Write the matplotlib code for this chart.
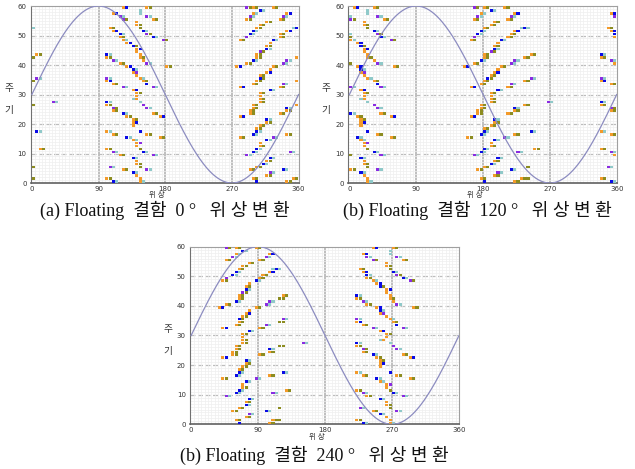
import numpy as np
import matplotlib
matplotlib.use('Agg')
import matplotlib.pyplot as plt

plt.rcParams['font.family'] = ['DejaVu Sans', 'Noto Sans CJK KR']

# colour codes of the cells
COLORS = {'o': '#F39A2A', 'g': '#8C8C20', 'b': '#0A0AE6', 'c': '#8FC9C9', 'p': '#8A2BE2'}

# base pattern (0 deg): phase of first cell, cycle, cell colours left->right
PHASE = [125, 153, 146, 112, 146, 118, 157, 124, 166, 141, 141, 107, 146, 112, 152,
         118, 157, 118, 164, 124, 176, 130, 135, 141, 141, 101, 146, 101, 146, 112,
         152, 118, 157, 130, 180, 135, 135, 141, 101, 146, 101, 152, 112, 157, 124,
         164, 135, 141, 141, 135, 101, 146, 101, 152, 112, 157, 112, 124, 164, 130,
         175, 135, 135, 135, 101, 146, 112, 157, 130, 175, 135, 141, 141, 101, 146,
         112, 152, 118, 164, 135, 141, 141, 107, 146, 124, 157, 135, 141, 101, 146,
         112, 146,
         288, 301, 328, 310, 299, 344, 294, 340, 288, 333, 317, 310, 304, 351, 299,
         344, 294, 337, 288, 333, 282, 326, 320, 315, 315, 310, 304, 304, 358, 299,
         344, 288, 340, 277, 326, 320, 315, 310, 306, 304, 358, 299, 340, 282, 333,
         320, 310, 310, 310, 310, 299, 358, 299, 344, 294, 344, 294, 333, 282, 315,
         315, 310, 304, 304, 299, 344, 281, 328, 315, 310, 310, 304, 299, 349, 288,
         320, 315, 312, 304, 294, 340, 320, 315, 299, 351, 304, 344,
         0, 0, 4.5, 4.5, 0, 29, 0, 4.5, 9, 0, 0]
CYCLE = [59, 59, 58, 57, 57, 56, 56, 55, 55, 54, 53, 52, 52, 51, 51,
         50, 50, 49, 49, 48, 48, 47, 46, 45, 44, 43, 43, 42, 42, 41,
         41, 40, 40, 39, 39, 38, 37, 36, 35, 35, 34, 34, 33, 33, 32,
         32, 31, 30, 29, 28, 27, 27, 26, 26, 25, 25, 24, 23, 23, 22,
         22, 21, 20, 19, 17, 17, 16, 16, 15, 15, 14, 13, 12, 11, 11,
         10, 10, 9, 9, 8, 7, 6, 5, 5, 4, 4, 3, 2, 1, 1,
         0, 0,
         59, 59, 59, 58, 57, 57, 56, 56, 55, 55, 54, 53, 52, 52, 51,
         51, 50, 50, 49, 49, 48, 48, 47, 46, 45, 44, 43, 42, 42, 41,
         41, 40, 40, 39, 39, 38, 37, 36, 35, 34, 34, 33, 33, 32, 32,
         31, 30, 29, 28, 27, 26, 26, 25, 25, 24, 24, 23, 23, 22, 21,
         20, 19, 18, 17, 16, 16, 15, 15, 14, 13, 12, 11, 10, 10, 9,
         8, 7, 6, 5, 4, 4, 3, 2, 1, 1, 0, 0,
         52, 42, 43, 35, 34, 27, 26, 17, 11, 5, 1]
CODE = ['ob', 'og', 'c', 'ob', 'c', 'pc', 'pc', 'pg', 'og', 'o', 'og', 'og', 'g', 'ob', 'bc',
        'bc', 'pg', 'og', 'bc', 'oc', 'pg', 'ob', 'bg', 'ob', 'o', 'bc', 'o', 'og', 'og', 'pc',
        'o', 'og', 'pc', 'ob', 'og', 'bc', 'op', 'o', 'pc', 'oc', 'ob', 'og', 'og', 'b', 'pc',
        'pc', 'ob', 'og', 'o', 'co', 'bc', 'c', 'og', 'p', 'pg', 'pc', 'og', 'bc', 'og', 'og',
        'ob', 'og', 'ob', 'o', 'oc', 'b', 'og', 'og', 'bc', 'og', 'oc', 'op', 'o', 'og', 'g',
        'pc', 'bc', 'og', 'pc', 'bc', 'o', 'og', 'pc', 'g', 'og', 'pc', 'bc', 'o', 'og', 'o',
        'bc', 'oc',
        'pg', 'og', 'og', 'bc', 'oc', 'ob', 'pc', 'pc', 'og', 'og', 'og', 'og', 'og', 'cb', 'bc',
        'ob', 'bc', 'og', 'p', 'og', 'og', 'bc', 'o', 'og', 'bc', 'pg', 'og', 'og', 'og', 'bc',
        'pc', 'og', 'pc', 'ob', 'og', 'o', 'ob', 'og', 'bg', 'og', 'og', 'og', 'pc', 'ob', 'og',
        'bc', 'og', 'o', 'og', 'og', 'og', 'og', 'og', 'bc', 'og', 'og', 'og', 'og', 'ob', 'bc',
        'og', 'og', 'og', 'bc', 'bc', 'og', 'og', 'pc', 'bc', 'o', 'og', 'bc', 'bc', 'pc', 'pc',
        'bc', 'og', 'bc', 'og', 'og', 'bc', 'pc', 'og', 'og', 'og', 'b', 'og',
        'c', 'g', 'og', 'pc', 'g', 'pc', 'g', 'bc', 'og', 'g', 'g']

SHIFTS = [0, 240, 120]
CAPTIONS = ['(a) Floating  결함  0 °   위 상 변 환',
            '(b) Floating  결함  120 °   위 상 변 환',
            '(b) Floating  결함  240 °   위 상 변 환']
AX_POS = [[0.0484, 0.6098, 0.4218, 0.3774],
          [0.5485, 0.6098, 0.4227, 0.3774],
          [0.2992, 0.0953, 0.4236, 0.3787]]
CAP_POS = [(0.259, 0.552), (0.751, 0.552), (0.4945, 0.029)]

CELL = 4.5

fig = plt.figure(figsize=(6.35, 4.69), dpi=100)

for k in range(3):
    ax = fig.add_axes(AX_POS[k])
    xs, ys, cs = [], [], []
    for ph, cy, code in zip(PHASE, CYCLE, CODE):
        for i, ch in enumerate(code):
            x = (ph + i * CELL + SHIFTS[k]) % 360
            xs.append(np.floor(x / CELL) * CELL)
            ys.append(cy)
            cs.append(COLORS[ch])
    ax.bar(xs, 0.86, bottom=np.array(ys) + 0.07, width=CELL * 0.92, align='edge',
           color=cs, linewidth=0, zorder=3)

    ph = np.linspace(0, 360, 400)
    ax.plot(ph, 30 + 30 * np.sin(np.radians(ph)), color='#8C8CC0', lw=0.9, zorder=4)

    ax.set_xlim(-1.5, 360)
    ax.set_ylim(0, 60)
    ax.set_xticks([0, 90, 180, 270, 360])
    ax.set_yticks([0, 10, 20, 30, 40, 50, 60])
    ax.set_xticks(np.arange(0, 361, CELL), minor=True)
    ax.set_yticks(np.arange(0, 61, 1), minor=True)
    ax.grid(which='minor', color='#efefef', lw=0.5, zorder=0)
    for v in (90, 180, 270):
        ax.axvline(v, color='#b4b4b4', lw=1.2, zorder=1)
    for v in (10, 20, 30, 40, 50):
        ax.axhline(v, color='#bdbdbd', lw=0.9, ls=(0, (4, 2)), zorder=1)
    ax.tick_params(which='both', length=0, labelsize=5, colors='#333333')
    ax.tick_params(axis='x', pad=2)
    ax.tick_params(axis='y', pad=3)
    for s in ax.spines.values():
        s.set_color('#a0a0a0')
        s.set_linewidth(0.8)
    ax.spines['left'].set_color('#707070')
    ax.spines['bottom'].set_color('#606060')
    ax.spines['bottom'].set_linewidth(1.2)

    ax.text(0.47, -0.07, '위 상', transform=ax.transAxes, ha='center', va='center',
            fontsize=5.5, color='#333333', family=['Noto Sans CJK KR'])
    ax.text(-0.083, 0.535, '주', transform=ax.transAxes, ha='center', va='center',
            fontsize=7, color='#333333', family=['Noto Sans CJK KR'])
    ax.text(-0.083, 0.415, '기', transform=ax.transAxes, ha='center', va='center',
            fontsize=7, color='#333333', family=['Noto Sans CJK KR'])

    fig.text(CAP_POS[k][0], CAP_POS[k][1], CAPTIONS[k], ha='center', va='center',
             fontsize=13, color='#111111', family=['Liberation Serif', 'Noto Sans CJK KR'])

fig.savefig('out.png', dpi=100)
